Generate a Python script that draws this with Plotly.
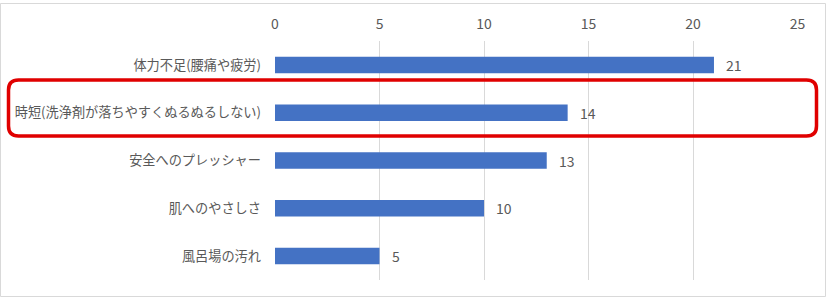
import plotly.graph_objects as go

categories = ["体力不足(腰痛や疲労)", "時短(洗浄剤が落ちやすくぬるぬるしない)", "安全へのプレッシャー", "肌へのやさしさ", "風呂場の汚れ"]
values = [21, 14, 13, 10, 5]
tick_vals = [0, 5, 10, 15, 20, 25]

W, H = 826, 298
L, R, T, B = 275, 28, 41, 18
pw, ph = W - L - R, H - T - B

def px(x):
    return (x - L) / pw

def py(y):
    return 1 - (y - T) / ph

fig = go.Figure()
fig.add_trace(go.Bar(
    x=values, y=categories, orientation="h",
    marker=dict(color="#4472C4", line=dict(width=0)),
    hoverinfo="skip",
))

for c, v in zip(categories, values):
    fig.add_annotation(x=v, y=c, xref="x", yref="y", text=str(v), showarrow=False,
                       xanchor="left", xshift=10,
                       font=dict(family="Noto Sans CJK JP", size=14, color="#595959"))

# red rounded rectangle
x0, x1, y0, y1, r = 8.5, 816.5, 80, 136, 10
rx, ry = r / pw, r / ph
X0, X1, Y0, Y1 = px(x0), px(x1), py(y0), py(y1)
path = (f"M {X0+rx} {Y0} L {X1-rx} {Y0} Q {X1} {Y0} {X1} {Y0-ry} "
        f"L {X1} {Y1+ry} Q {X1} {Y1} {X1-rx} {Y1} L {X0+rx} {Y1} "
        f"Q {X0} {Y1} {X0} {Y1+ry} L {X0} {Y0-ry} Q {X0} {Y0} {X0+rx} {Y0} Z")
fig.add_shape(type="path", path=path, xref="paper", yref="paper",
              line=dict(color="#E00000", width=3.5))

# outer chart border
fig.add_shape(type="rect", xref="paper", yref="paper",
              x0=px(0.5), x1=px(825.5), y0=py(3.5), y1=py(296.5),
              line=dict(color="#D9D9D9", width=1))

fig.update_layout(
    width=W, height=H,
    margin=dict(l=L, r=R, t=T, b=B, autoexpand=False),
    paper_bgcolor="white", plot_bgcolor="white",
    bargap=0.655,
    showlegend=False,
    font=dict(family="Noto Sans CJK JP", color="#595959"),
    xaxis=dict(range=[0, 25.02], side="top", tickvals=tick_vals,
               ticktext=[str(t) for t in tick_vals],
               showgrid=True, gridcolor="#D9D9D9", gridwidth=1,
               zeroline=False, showline=False, automargin=False,
               tickfont=dict(size=14, color="#595959"),
               ticklabelstandoff=8, fixedrange=True),
    yaxis=dict(categoryorder="array", categoryarray=categories, autorange="reversed",
               showgrid=False, zeroline=False, showline=False, automargin=False,
               tickfont=dict(size=13.2, color="#595959"),
               ticklabelstandoff=13, fixedrange=True),
)

fig.write_html("out.html", config={"displayModeBar": False})
